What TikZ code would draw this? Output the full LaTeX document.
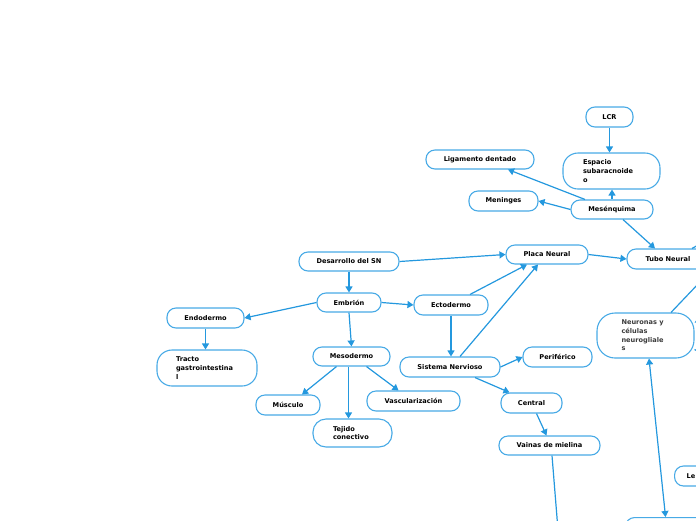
\documentclass[tikz,border=0pt]{standalone}
\usepackage{fontspec}
\setmainfont{DejaVu Sans}
\usetikzlibrary{arrows.meta}
\definecolor{edgeblue}{RGB}{36,152,222}
\definecolor{nodeblue}{RGB}{72,170,230}
\definecolor{neutext}{RGB}{60,60,60}
\tikzset{
  box/.style={draw=nodeblue, line width=1.1pt, rounded corners=9pt, fill=white,
    font=\fontsize{6.6}{8.6}\selectfont\bfseries, text=black, inner sep=0pt,
    minimum height=20pt, align=center},
  tallbox/.style={box, rounded corners=15pt, align=left},
  conn/.style={draw=edgeblue, line width=1.2pt, -{Triangle[width=7pt,length=6pt]}},
  plain/.style={draw=edgeblue, line width=1.2pt},
  both/.style={draw=edgeblue, line width=1.2pt, {Triangle[width=7pt,length=6pt]}-{Triangle[width=7pt,length=6pt]}}
}
\begin{document}
\begin{tikzpicture}[x=1pt,y=-1pt]
\useasboundingbox (0,0) rectangle (696,520);
\clip (0,0) rectangle (696,520);
% nodes
\node[box, minimum width=47pt] (lcr) at (609.5,117) {LCR};
\node[tallbox, minimum width=97pt, minimum height=36pt, text width=57pt] (esp) at (611.5,171) {Espacio\\subaracnoide\\o};
\node[box, minimum width=108pt, minimum height=19pt] (lig) at (480,159.5) {Ligamento dentado};
\node[box, minimum width=69pt] (men) at (503.5,201) {Meninges};
\node[box, minimum width=82pt, minimum height=19pt] (mes) at (612,209.5) {Mesénquima};
\node[box, minimum width=100pt, minimum height=19pt] (des) at (349,261.5) {Desarrollo del SN};
\node[box, minimum width=82pt, minimum height=19pt] (placa) at (547,254.5) {Placa Neural};
\node[box, minimum width=82pt] (tubo) at (668,259) {Tubo Neural};
\node[box, minimum width=64pt, minimum height=19pt] (emb) at (349,302.5) {Embrión};
\node[box, minimum width=74pt] (ecto) at (451,305) {Ectodermo};
\node[box, minimum width=77pt] (endo) at (205.5,318) {Endodermo};
\node[tallbox, minimum width=100pt, minimum height=36pt, text width=62pt] (tracto) at (207,368) {Tracto\\gastrointestina\\l};
\node[box, minimum width=77pt, minimum height=19pt] (meso) at (351.5,356.5) {Mesodermo};
\node[box, minimum width=100pt] (sn) at (450,367) {Sistema Nervioso};
\node[box, minimum width=69pt] (perif) at (557.5,357) {Periférico};
\node[tallbox, rounded corners=18pt, minimum width=97pt, minimum height=45pt, text width=48pt, text=neutext] (neu) at (645.5,335.5) {Neuronas y\\células\\neurogliale\\s};
\node[box, minimum width=64pt] (musc) at (288,405) {Músculo};
\node[box, minimum width=93pt] (vasc) at (413.5,401) {Vascularización};
\node[tallbox, rounded corners=13pt, minimum width=79pt, minimum height=28pt, text width=39pt] (tej) at (352.5,433) {Tejido\\conectivo};
\node[box, minimum width=61pt] (central) at (531.5,403) {Central};
\node[box, minimum width=101pt, minimum height=19pt] (vainas) at (549.5,445.5) {Vainas de mielina};
\node[box, anchor=west, minimum width=80pt, text width=56pt, align=left] (le) at (674,476) {Le};
\node[box, anchor=north west, minimum width=164pt] (bot) at (625,517) {};
% off-canvas coordinates
\coordinate (offA) at (558,530);
\coordinate (offB) at (720,261);
\coordinate (offC) at (720,233);
\coordinate (offD) at (730,308);
\coordinate (offE) at (720,362);
% connectors
\draw[conn] (lcr.south) -- (lcr.south |- esp.north);
\draw[conn] (mes.north) -- (mes.north |- esp.south);
\draw[conn] ([xshift=-27pt]mes.north) -- ([xshift=28pt]lig.south);
\draw[conn] (mes.west) -- (men.east);
\draw[conn] ([xshift=11pt]mes.south) -- ([xshift=-13pt]tubo.north);
\draw[conn] (des.east) -- (placa.west);
\draw[conn] (des.south) -- (emb.north);
\draw[conn] (placa.east) -- (tubo.west);
\draw[conn] (emb.east) -- (ecto.west);
\draw[conn] (emb.west) -- (endo.east);
\draw[conn] (emb.south) -- (meso.north);
\draw[conn] ([xshift=19pt]ecto.north) -- ([xshift=-20pt]placa.south);
\draw[conn] ([xshift=10pt]sn.north) -- ([xshift=-9pt]placa.south);
\draw[conn] (ecto.south) -- (ecto.south |- sn.north);
\draw[conn] (endo.south) -- (endo.south |- tracto.north);
\draw[conn] ([xshift=-15pt]meso.south) -- ([xshift=14pt]musc.north);
\draw[conn] ([xshift=-3pt]meso.south) -- ([xshift=-4pt]tej.north);
\draw[conn] ([xshift=15pt]meso.south) -- ([xshift=-15pt]vasc.north);
\draw[conn] (sn.east) -- (perif.west);
\draw[conn] ([xshift=25pt]sn.south) -- ([xshift=-22pt]central.north);
\draw[conn] ([xshift=5pt]central.south) -- ([xshift=-3pt]vainas.north);
\draw[plain] ([xshift=2.5pt]vainas.south) -- (offA);
\draw[both] ([xshift=3.5pt]neu.south) -- ([xshift=-42pt]bot.north);
\draw[plain] ([xshift=25.5pt]neu.north) -- (offB);
\draw[plain] ([xshift=24pt]tubo.north) -- (offC);
\draw[conn] (offD) -- ([yshift=13pt]neu.east);
\draw[plain] ([yshift=-14pt]neu.east) -- (offE);
\end{tikzpicture}
\end{document}
